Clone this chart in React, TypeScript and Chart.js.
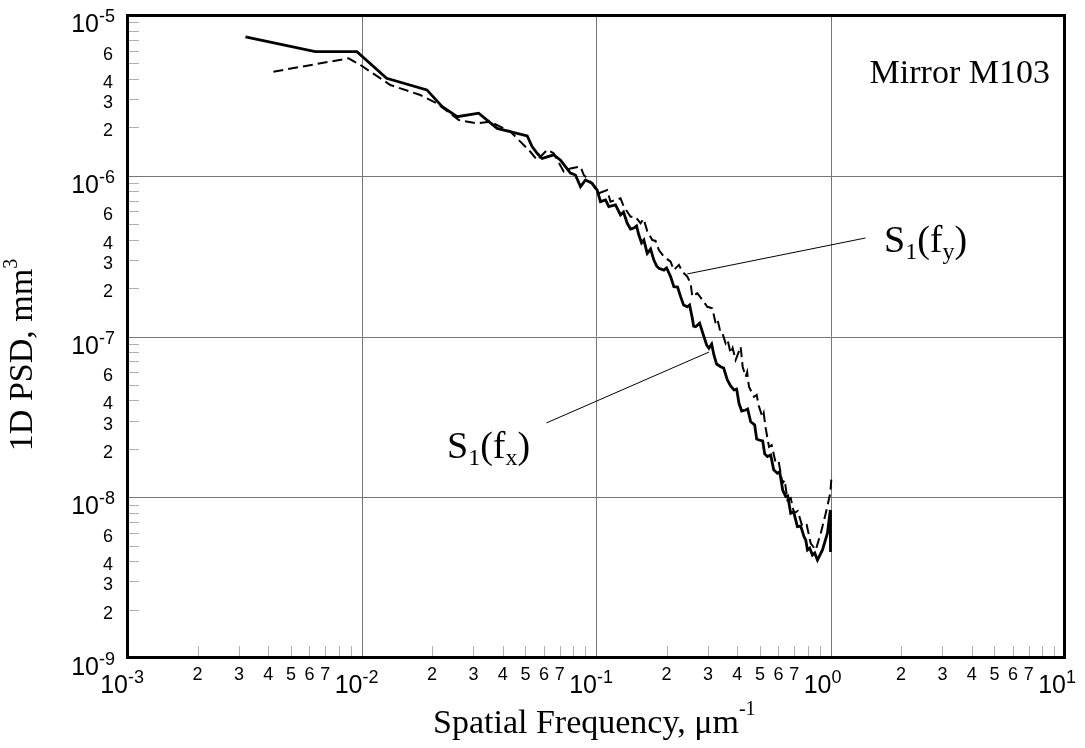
import React, { useEffect, useRef } from 'react';
import { Chart, registerables } from 'chart.js';

Chart.register(...registerables);

// S1(fx): solid curve
const fxFreq = [0.0032, 0.00635, 0.00956, 0.0128, 0.019, 0.0221, 0.0256, 0.0316, 0.0379, 0.0509, 0.0534, 0.0561, 0.0589, 0.0619, 0.066, 0.0706, 0.0741, 0.0778, 0.0817, 0.0859, 0.0902, 0.0963, 0.1012, 0.1045, 0.1098, 0.1134, 0.1211, 0.1272, 0.131, 0.1359, 0.1404, 0.145, 0.1489, 0.1523, 0.1564, 0.16, 0.1654, 0.1709, 0.1765, 0.1813, 0.1854, 0.1948, 0.2, 0.208, 0.2148, 0.2228, 0.2295, 0.2363, 0.2451, 0.2507, 0.2575, 0.2608, 0.266, 0.2766, 0.2886, 0.2963, 0.303, 0.3113, 0.3183, 0.3268, 0.34, 0.3502, 0.3632, 0.3751, 0.3876, 0.3979, 0.4071, 0.418, 0.4347, 0.4434, 0.4566, 0.4749, 0.4844, 0.4955, 0.5138, 0.524, 0.5382, 0.5559, 0.5725, 0.5935, 0.6072, 0.6254, 0.6442, 0.6569, 0.6766, 0.6968, 0.7225, 0.7464, 0.771, 0.7843, 0.7972, 0.8153, 0.8375, 0.8566, 0.8798, 0.924, 0.9705, 0.998, 1.0];
const fxPsd = [7.30e-6, 5.91e-6, 5.91e-6, 4.04e-6, 3.42e-6, 2.69e-6, 2.33e-6, 2.45e-6, 1.97e-6, 1.77e-6, 1.52e-6, 1.38e-6, 1.28e-6, 1.31e-6, 1.35e-6, 1.25e-6, 1.14e-6, 1.04e-6, 1.01e-6, 8.55e-7, 9.41e-7, 8.97e-7, 8.15e-7, 6.90e-7, 7.07e-7, 6.42e-7, 6.58e-7, 5.70e-7, 5.95e-7, 5.06e-7, 4.66e-7, 4.73e-7, 4.87e-7, 4.28e-7, 3.82e-7, 3.98e-7, 3.29e-7, 3.50e-7, 2.99e-7, 2.75e-7, 2.66e-7, 2.59e-7, 2.67e-7, 2.36e-7, 2.04e-7, 2.03e-7, 1.77e-7, 1.57e-7, 1.53e-7, 1.57e-7, 1.30e-7, 1.16e-7, 1.15e-7, 1.21e-7, 9.97e-8, 8.86e-8, 8.45e-8, 8.98e-8, 7.67e-8, 6.74e-8, 6.49e-8, 6.37e-8, 5.36e-8, 4.92e-8, 4.65e-8, 4.71e-8, 3.84e-8, 3.44e-8, 3.49e-8, 3.54e-8, 2.95e-8, 2.82e-8, 2.30e-8, 2.27e-8, 2.24e-8, 1.86e-8, 1.79e-8, 1.83e-8, 1.48e-8, 1.41e-8, 1.44e-8, 1.11e-8, 1.01e-8, 1.02e-8, 7.95e-9, 8.09e-9, 6.56e-9, 6.62e-9, 5.68e-9, 5.42e-9, 4.70e-9, 4.83e-9, 4.37e-9, 4.50e-9, 4.07e-9, 4.70e-9, 5.97e-9, 8.33e-9, 4.56e-9];

// S1(fy): dashed curve
const fyFreq = [0.00421, 0.00881, 0.00988, 0.01327, 0.01781, 0.021, 0.026, 0.0311, 0.0354, 0.0432, 0.0476, 0.0525, 0.0561, 0.0619, 0.066, 0.0729, 0.0778, 0.0859, 0.0887, 0.0947, 0.1028, 0.1116, 0.1153, 0.1272, 0.1314, 0.1404, 0.1474, 0.1549, 0.1595, 0.1654, 0.1738, 0.1795, 0.1854, 0.1948, 0.208, 0.2148, 0.2257, 0.2333, 0.2451, 0.2532, 0.2575, 0.2704, 0.284, 0.2983, 0.3134, 0.3237, 0.33, 0.34, 0.3467, 0.3571, 0.3642, 0.3751, 0.3826, 0.394, 0.4139, 0.4221, 0.4347, 0.4412, 0.449, 0.4717, 0.4844, 0.4955, 0.5122, 0.5189, 0.5292, 0.5467, 0.5613, 0.5838, 0.6014, 0.6236, 0.6378, 0.6549, 0.6766, 0.6989, 0.7246, 0.759, 0.792, 0.8234, 0.865, 0.9087, 0.9544, 0.998, 1.01];
const fyPsd = [4.44e-6, 5.38e-6, 4.89e-6, 3.67e-6, 3.18e-6, 2.82e-6, 2.22e-6, 2.12e-6, 2.17e-6, 1.88e-6, 1.63e-6, 1.41e-6, 1.25e-6, 1.45e-6, 1.38e-6, 1.06e-6, 1.11e-6, 1.14e-6, 1.01e-6, 9.18e-7, 7.78e-7, 8.15e-7, 6.90e-7, 7.24e-7, 6.42e-7, 5.56e-7, 5.56e-7, 5.06e-7, 5.40e-7, 4.53e-7, 3.98e-7, 3.93e-7, 3.45e-7, 3.14e-7, 2.92e-7, 2.59e-7, 2.79e-7, 2.53e-7, 2.36e-7, 2.14e-7, 1.77e-7, 1.86e-7, 1.69e-7, 1.53e-7, 1.50e-7, 1.21e-7, 1.27e-7, 1.05e-7, 1.04e-7, 9.07e-8, 9.51e-8, 7.86e-8, 8.48e-8, 7.14e-8, 8.64e-8, 6.49e-8, 5.62e-8, 6.02e-8, 4.87e-8, 4.22e-8, 4.33e-8, 3.66e-8, 3.17e-8, 3.34e-8, 2.69e-8, 2.06e-8, 2.11e-8, 1.63e-8, 1.66e-8, 1.22e-8, 1.28e-8, 9.61e-9, 9.89e-9, 7.95e-9, 8.21e-9, 6.56e-9, 6.72e-9, 5.17e-9, 4.70e-9, 5.97e-9, 7.95e-9, 1.06e-8, 1.34e-8];

// axes
const xMajorTicks = [1e-3, 1e-2, 1e-1, 1, 10];
const xMajorExp = ['-3', '-2', '-1', '0', '1'];
const yMajorTicks = [1e-5, 1e-6, 1e-7, 1e-8, 1e-9];
const yMajorExp = ['-5', '-6', '-7', '-8', '-9'];
const minorSteps = [2, 3, 4, 5, 6, 7, 8, 9];
const xMinorLabels = [2, 3, 4, 5, 6, 7];
const yMinorLabels = [2, 3, 4, 6];

// annotation leader lines (data coordinates)
const fyLeader = [{ x: 0.245, y: 2.45e-7 }, { x: 1.41, y: 4.1e-7 }];
const fxLeader = [{ x: 0.303, y: 8.0e-8 }, { x: 0.0615, y: 2.9e-8 }];

const SANS = '"Liberation Sans", Arial, sans-serif';
const SERIF = '"Liberation Serif", "Times New Roman", serif';

type Part = { t: string; size: number; dy: number };

function richWidth(ctx: CanvasRenderingContext2D, parts: Part[]) {
  let w = 0;
  for (const p of parts) {
    ctx.font = `${p.size}px ${SERIF}`;
    w += ctx.measureText(p.t).width;
  }
  return w;
}

function drawRich(ctx: CanvasRenderingContext2D, parts: Part[], x: number, y: number) {
  let cx = x;
  ctx.textAlign = 'left';
  ctx.textBaseline = 'alphabetic';
  for (const p of parts) {
    ctx.font = `${p.size}px ${SERIF}`;
    ctx.fillText(p.t, cx, y + p.dy);
    cx += ctx.measureText(p.t).width;
  }
}

const decorPlugin = {
  id: 'psdDecor',
  beforeDatasetsDraw(chart: any) {
    const { ctx, chartArea: a, scales } = chart;
    const xs = scales.x;
    const ys = scales.y;
    ctx.save();
    // major grid
    ctx.strokeStyle = '#777777';
    ctx.lineWidth = 1;
    ctx.beginPath();
    for (let i = 1; i < xMajorTicks.length - 1; i++) {
      const px = Math.round(xs.getPixelForValue(xMajorTicks[i])) + 0.5;
      ctx.moveTo(px, a.top);
      ctx.lineTo(px, a.bottom);
    }
    for (let i = 1; i < yMajorTicks.length - 1; i++) {
      const py = Math.round(ys.getPixelForValue(yMajorTicks[i])) + 0.5;
      ctx.moveTo(a.left, py);
      ctx.lineTo(a.right, py);
    }
    ctx.stroke();
    // minor ticks
    ctx.strokeStyle = '#b0b0b0';
    ctx.beginPath();
    for (let i = 0; i < xMajorTicks.length - 1; i++) {
      for (const m of minorSteps) {
        const px = Math.round(xs.getPixelForValue(xMajorTicks[i] * m)) + 0.5;
        ctx.moveTo(px, a.bottom);
        ctx.lineTo(px, a.bottom - 12);
      }
    }
    for (let i = 1; i < yMajorTicks.length; i++) {
      for (const m of minorSteps) {
        const py = Math.round(ys.getPixelForValue(yMajorTicks[i] * m)) + 0.5;
        ctx.moveTo(a.left, py);
        ctx.lineTo(a.left + 12, py);
      }
    }
    ctx.stroke();
    ctx.restore();
  },
  afterDatasetsDraw(chart: any) {
    const { ctx, chartArea: a, scales } = chart;
    const xs = scales.x;
    const ys = scales.y;
    ctx.save();
    // frame
    ctx.strokeStyle = '#000';
    ctx.lineWidth = 3;
    ctx.strokeRect(a.left + 0.5, a.top + 0.5, a.right - a.left - 1, a.bottom - a.top - 1);

    ctx.fillStyle = '#000';
    // y major labels
    for (let i = 0; i < yMajorTicks.length; i++) {
      const py = ys.getPixelForValue(yMajorTicks[i]);
      ctx.font = `18px ${SANS}`;
      const sw = ctx.measureText(yMajorExp[i]).width;
      const xs0 = a.left - 12 - sw;
      ctx.textAlign = 'left';
      ctx.textBaseline = 'alphabetic';
      ctx.fillText(yMajorExp[i], xs0, py + 7);
      ctx.font = `25px ${SANS}`;
      ctx.textAlign = 'right';
      ctx.fillText('10', xs0, py + 17);
    }
    // y minor labels
    ctx.font = `18px ${SANS}`;
    ctx.textAlign = 'right';
    for (let i = 1; i < yMajorTicks.length; i++) {
      for (const m of yMinorLabels) {
        const py = ys.getPixelForValue(yMajorTicks[i] * m);
        ctx.fillText(String(m), a.left - 14, py + 9);
      }
    }
    // x major labels
    for (let i = 0; i < xMajorTicks.length; i++) {
      const px = xs.getPixelForValue(xMajorTicks[i]);
      ctx.font = `25px ${SANS}`;
      ctx.textAlign = 'right';
      ctx.fillText('10', px + 1, a.bottom + 35);
      ctx.font = `18px ${SANS}`;
      ctx.textAlign = 'left';
      ctx.fillText(xMajorExp[i], px + 1, a.bottom + 25);
    }
    // x minor labels
    ctx.font = `18px ${SANS}`;
    ctx.textAlign = 'center';
    for (let i = 0; i < xMajorTicks.length - 1; i++) {
      for (const m of xMinorLabels) {
        const px = xs.getPixelForValue(xMajorTicks[i] * m);
        ctx.fillText(String(m), px, a.bottom + 22);
      }
    }

    // x axis title
    drawRich(ctx, [
      { t: 'Spatial Frequency, μm', size: 34, dy: 0 },
      { t: '-1', size: 20, dy: -18 },
    ], 433, 733);

    // y axis title (rotated)
    const yParts: Part[] = [
      { t: '1D PSD, mm', size: 34, dy: 0 },
      { t: '3', size: 20, dy: -15 },
    ];
    const yw = richWidth(ctx, yParts);
    ctx.save();
    ctx.translate(32, 355);
    ctx.rotate(-Math.PI / 2);
    drawRich(ctx, yParts, -yw / 2, 0);
    ctx.restore();

    // Mirror label
    ctx.font = `34px ${SERIF}`;
    ctx.textAlign = 'right';
    ctx.fillText('Mirror M103', 1050, 83);

    // leader lines
    ctx.lineWidth = 1;
    ctx.strokeStyle = '#000';
    ctx.beginPath();
    ctx.moveTo(xs.getPixelForValue(fyLeader[0].x), ys.getPixelForValue(fyLeader[0].y));
    ctx.lineTo(xs.getPixelForValue(fyLeader[1].x), ys.getPixelForValue(fyLeader[1].y));
    ctx.moveTo(xs.getPixelForValue(fxLeader[0].x), ys.getPixelForValue(fxLeader[0].y));
    ctx.lineTo(xs.getPixelForValue(fxLeader[1].x), ys.getPixelForValue(fxLeader[1].y));
    ctx.stroke();

    // curve labels
    drawRich(ctx, [
      { t: 'S', size: 38, dy: 0 },
      { t: '1', size: 24, dy: 7 },
      { t: '(f', size: 38, dy: 0 },
      { t: 'y', size: 24, dy: 7 },
      { t: ')', size: 38, dy: 0 },
    ], 884, 252);
    drawRich(ctx, [
      { t: 'S', size: 38, dy: 0 },
      { t: '1', size: 24, dy: 7 },
      { t: '(f', size: 38, dy: 0 },
      { t: 'x', size: 24, dy: 7 },
      { t: ')', size: 38, dy: 0 },
    ], 447, 458);

    ctx.restore();
  },
};

export default function App() {
  const canvasRef = useRef<HTMLCanvasElement | null>(null);

  useEffect(() => {
    const canvas = canvasRef.current;
    if (!canvas) return;
    const chart = new Chart(canvas, {
      type: 'line',
      data: {
        datasets: [
          {
            label: 'S1(fy)',
            data: fyFreq.map((f, i) => ({ x: f, y: fyPsd[i] })),
            borderColor: '#000',
            borderWidth: 2,
            borderDash: [10, 5],
            pointRadius: 0,
            fill: false,
            tension: 0,
          },
          {
            label: 'S1(fx)',
            data: fxFreq.map((f, i) => ({ x: f, y: fxPsd[i] })),
            borderColor: '#000',
            borderWidth: 2.8,
            pointRadius: 0,
            fill: false,
            tension: 0,
          },
        ],
      },
      options: {
        responsive: false,
        animation: false,
        devicePixelRatio: 1,
        layout: { padding: { left: 127, top: 15, right: 20, bottom: 90 } },
        plugins: { legend: { display: false }, tooltip: { enabled: false } },
        events: [],
        scales: {
          x: { type: 'logarithmic', min: 1e-3, max: 10, display: false },
          y: { type: 'logarithmic', min: 1e-9, max: 1e-5, display: false },
        },
      },
      plugins: [decorPlugin],
    });
    return () => chart.destroy();
  }, []);

  return (
    <div style={{ position: 'fixed', left: 0, top: 0, width: 1085, height: 748, background: '#fff' }}>
      <canvas ref={canvasRef} width={1085} height={748} style={{ display: 'block' }} />
    </div>
  );
}
